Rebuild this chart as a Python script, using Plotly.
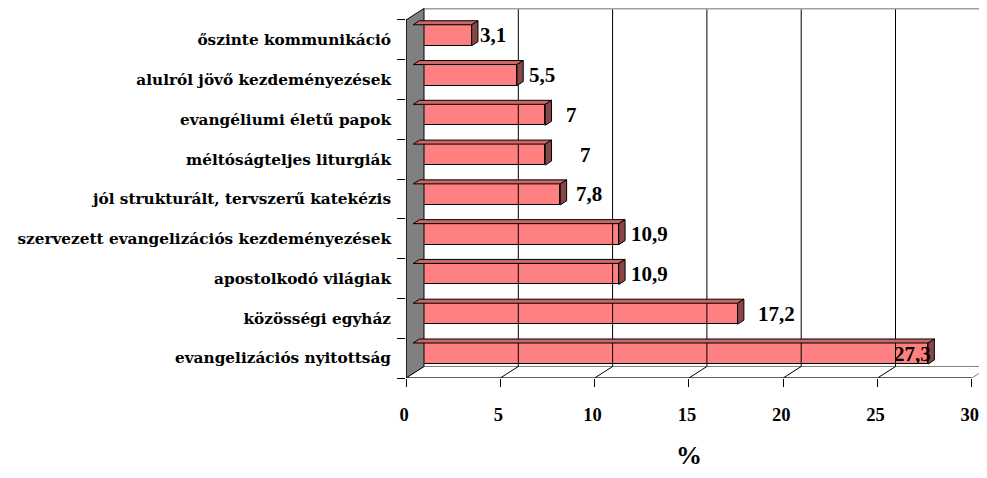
import plotly.graph_objects as go

# ---------------- data ----------------
categories = [
    "őszinte kommunikáció",
    "alulról jövő kezdeményezések",
    "evangéliumi életű papok",
    "méltóságteljes liturgiák",
    "jól strukturált, tervszerű katekézis",
    "szervezett evangelizációs kezdeményezések",
    "apostolkodó világiak",
    "közösségi egyház",
    "evangelizációs nyitottság",
]
values = [3.1, 5.5, 7, 7, 7.8, 10.9, 10.9, 17.2, 27.3]
x_ticks = [0, 5, 10, 15, 20, 25, 30]
axis_title = "%"

# ---------------- style ----------------
label_nudge_px = [21, 25, 26, 40, 29, 31, 31, 39, -16]
# the page body has an 8px default margin; keep the page from overflowing the window
W, H = 971, 462
ML, MT, MB = 398, 0, 92
px_per_x = 18.86
px_per_cat = 39.78
n = len(categories)
xmax = (W - ML) / px_per_x
ymin = -0.5
ymax = ymin + (H - MT - MB) / px_per_cat
ytop = n - 0.5
DX = 18 / px_per_x          # full depth of the 3D box (x, data units)
DY = 11.5 / px_per_cat      # full depth of the 3D box (y, category units)
bar_d0 = 0.4
bar_depth = 0.35
bar_w = 21 / px_per_cat
front_col = "#FF8080"
top_col = "#CC6666"
side_col = "#8B4545"
serif = "Liberation Serif"

ypos = [n - 1 - i for i in range(n)]
labels = [f"{v:g}".replace(".", ",") for v in values]

fig = go.Figure()


def poly(xs, ys, fill, line_col, lw=1):
    fig.add_trace(go.Scatter(x=xs, y=ys, mode="lines", fill="toself", fillcolor=fill,
                             line=dict(color=line_col, width=lw), hoverinfo="skip"))


def seg(xs, ys, col, lw=1):
    fig.add_trace(go.Scatter(x=xs, y=ys, mode="lines", line=dict(color=col, width=lw),
                             hoverinfo="skip"))


# floor
poly([0, x_ticks[-1], x_ticks[-1] + DX, DX, 0],
     [ymin, ymin, ymin + DY, ymin + DY, ymin], "white", "#808080")
# back-wall grid lines
for t in x_ticks[1:]:
    seg([t + DX, t + DX], [ymin + DY, ytop + DY], "black")
# floor diagonals
for t in x_ticks[1:-1]:
    seg([t, t + DX], [ymin, ymin + DY], "black")
# back wall top edge
seg([DX, x_ticks[-1] + DX], [ytop + DY, ytop + DY], "#A0A0A0", 2)
# side wall
poly([0, DX, DX, 0, 0], [ymin, ymin + DY, ytop + DY, ytop, ymin], "#808080", "black")
# front floor edge and value axis line
seg([0, x_ticks[-1]], [ymin, ymin], "black")
seg([0, 0], [ymin, ytop], "black")

# bars
b = bar_d0 * DX
ddx = bar_depth * DX
ddy = bar_depth * DY
fig.add_trace(go.Bar(
    x=values, y=[p + bar_d0 * DY for p in ypos], base=b, orientation="h", width=bar_w,
    marker=dict(color=front_col, line=dict(color="black", width=1)), hoverinfo="skip"))
for v, p in zip(values, ypos):
    yc = p + bar_d0 * DY
    y0, y1 = yc - bar_w / 2, yc + bar_w / 2
    poly([b, b + v, b + v + ddx, b + ddx, b], [y1, y1, y1 + ddy, y1 + ddy, y1], top_col, "black")
    poly([b + v, b + v + ddx, b + v + ddx, b + v, b + v], [y0, y0 + ddy, y1 + ddy, y1, y0],
         side_col, "black")

annotations = []
for v, p, lab, nud in zip(values, ypos, labels, label_nudge_px):
    annotations.append(dict(x=b + v, y=p + bar_d0 * DY, xref="x", yref="y", text=lab,
                            showarrow=False, xanchor="center", yanchor="middle", xshift=nud,
                            font=dict(family=serif, size=21, color="black", weight="bold")))
annotations.append(dict(x=x_ticks[len(x_ticks) // 2], y=-(447 - (H - MB)) / (H - MT - MB),
                        xref="x", yref="paper", text=axis_title, showarrow=False,
                        xanchor="center", yanchor="middle",
                        font=dict(family=serif, size=26, color="black", weight="bold")))

fig.update_layout(
    width=W, height=H, autosize=False,
    margin=dict(l=ML, r=0, t=MT, b=MB, pad=0, autoexpand=False),
    paper_bgcolor="white", plot_bgcolor="white",
    showlegend=False, bargap=0,
    annotations=annotations,
    xaxis=dict(range=[0, xmax], tickmode="array", tickvals=x_ticks, automargin=False,
               ticktext=[str(t) for t in x_ticks], ticks="outside", ticklen=8,
               tickcolor="black", tickwidth=1, showgrid=False, zeroline=False,
               showline=False, ticklabelstandoff=12, ticklabelshift=-2,
               ticklabeloverflow="allow",
               tickfont=dict(family=serif, size=18.5, color="black", weight="bold")),
    yaxis=dict(type="linear", range=[ymin, ymax], tickmode="array", tickvals=ypos,
               ticktext=categories, ticks="", showgrid=False, zeroline=False,
               showline=False, ticklabelstandoff=14, automargin=False,
               tickfont=dict(family="DejaVu Serif", size=15.3, color="black", weight="bold"),
               minor=dict(tickmode="array", tickvals=[k - 0.5 for k in range(n + 1)],
                          ticks="outside", ticklen=8, tickcolor="black", tickwidth=1,
                          showgrid=False)),
)

fig.write_html("out.html")
